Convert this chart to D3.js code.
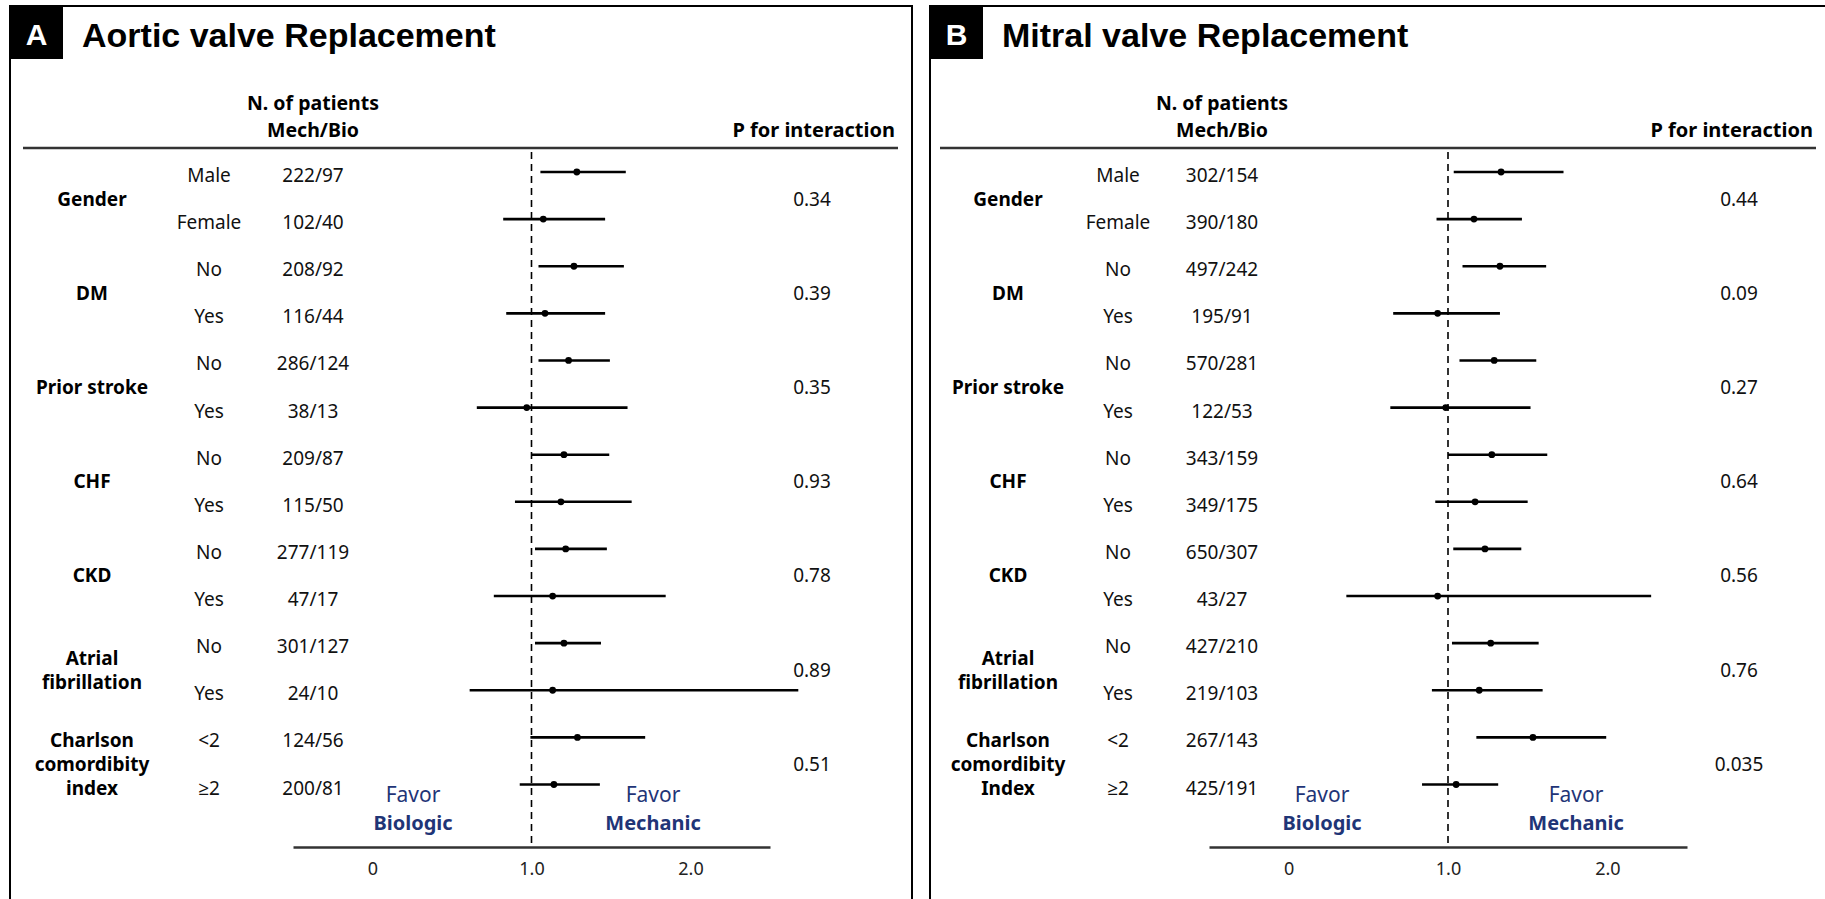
<!DOCTYPE html>
<html>
<head>
<meta charset="utf-8">
<script src="https://cdn.jsdelivr.net/npm/d3@7"></script>
<style>
  body { margin: 0; background: #fff; }
  svg { display: block; }
  text { font-family: "Noto Sans", "Open Sans", sans-serif; }
</style>
</head>
<body>
<svg id="chart" width="1825" height="899"></svg>
<script>
// Subgroup rows (shared by both panels)
const subgroups = ["Male", "Female", "No", "Yes", "No", "Yes", "No", "Yes",
                   "No", "Yes", "No", "Yes", "<2", "\u22652"];

// Group labels, one entry per pair of rows (multi-line labels split into lines)
const aorticGroups = [["Gender"], ["DM"], ["Prior stroke"], ["CHF"], ["CKD"],
                      ["Atrial", "fibrillation"], ["Charlson", "comordibity", "index"]];
const mitralGroups = [["Gender"], ["DM"], ["Prior stroke"], ["CHF"], ["CKD"],
                      ["Atrial", "fibrillation"], ["Charlson", "comordibity", "Index"]];

// Aortic valve replacement
const aorticN = ["222/97", "102/40", "208/92", "116/44", "286/124", "38/13", "209/87",
                 "115/50", "277/119", "47/17", "301/127", "24/10", "124/56", "200/81"];
const aorticHR = [1.285, 1.074, 1.267, 1.085, 1.233, 0.970, 1.204,
                  1.185, 1.215, 1.133, 1.204, 1.133, 1.289, 1.141];
const aorticLower = [1.056, 0.822, 1.044, 0.841, 1.044, 0.656, 1.000,
                     0.896, 1.022, 0.763, 1.022, 0.611, 0.993, 0.926];
const aorticUpper = [1.593, 1.463, 1.581, 1.463, 1.493, 1.604, 1.489,
                     1.630, 1.474, 1.844, 1.437, 2.678, 1.715, 1.430];
const aorticP = ["0.34", "0.39", "0.35", "0.93", "0.78", "0.89", "0.51"];

// Mitral valve replacement
const mitralN = ["302/154", "390/180", "497/242", "195/91", "570/281", "122/53", "343/159",
                 "349/175", "650/307", "43/27", "427/210", "219/103", "267/143", "425/191"];
const mitralHR = [1.333, 1.163, 1.326, 0.935, 1.290, 0.986, 1.275,
                  1.170, 1.232, 0.935, 1.268, 1.196, 1.533, 1.051];
const mitralLower = [1.036, 0.928, 1.091, 0.656, 1.072, 0.638, 1.000,
                     0.920, 1.033, 0.362, 1.025, 0.899, 1.178, 0.837];
const mitralUpper = [1.725, 1.464, 1.616, 1.326, 1.554, 1.518, 1.623,
                     1.500, 1.460, 2.275, 1.569, 1.594, 1.993, 1.315];
const mitralP = ["0.44", "0.09", "0.27", "0.64", "0.56", "0.76", "0.035"];

// Axis
const xDomain = [-0.5, 2.5];
const xTickValues = [0, 1, 2];
const xTickLabels = ["0", "1.0", "2.0"];

const svg = d3.select("#chart");
const navy = "#1f3577";

function drawPanel(p) {
  const g = svg.append("g");
  const rows = p.hr.map((hr, i) => ({ sub: subgroups[i], n: p.n[i], hr, lo: p.lo[i], hi: p.hi[i] }));

  const x = d3.scaleLinear().domain(xDomain).range(p.xRange);
  const y = d3.scaleLinear().domain([0, rows.length - 1]).range([172, 784.5]);

  // panel frame
  g.append("rect").attr("x", p.left).attr("y", 6).attr("width", p.right - p.left)
    .attr("height", 910).attr("fill", "none").attr("stroke", "#000").attr("stroke-width", 2);

  // panel letter and title
  g.append("rect").attr("x", p.left).attr("y", 6).attr("width", 53).attr("height", 53).attr("fill", "#000");
  g.append("text").attr("x", p.left + 26.5).attr("y", 45).attr("text-anchor", "middle")
    .style("font-family", "'Liberation Sans', Arial, sans-serif")
    .attr("font-size", 30).attr("font-weight", "bold").attr("fill", "#fff").text(p.letter);
  g.append("text").attr("x", p.left + 72).attr("y", 47)
    .style("font-family", "'Liberation Sans', Arial, sans-serif")
    .attr("font-size", 34).attr("font-weight", "bold").attr("fill", "#000").text(p.title);

  // column headers
  g.append("text").attr("x", p.nX).attr("y", 110).attr("text-anchor", "middle")
    .attr("font-size", 19.5).attr("font-weight", "bold").text("N. of patients");
  g.append("text").attr("x", p.nX).attr("y", 137).attr("text-anchor", "middle")
    .attr("font-size", 19.5).attr("font-weight", "bold").text("Mech/Bio");
  g.append("text").attr("x", p.pRight).attr("y", 137).attr("text-anchor", "end")
    .attr("font-size", 20).attr("font-weight", "bold").text("P for interaction");

  g.append("line").attr("x1", p.ruleX[0]).attr("x2", p.ruleX[1]).attr("y1", 148).attr("y2", 148)
    .attr("stroke", "#333").attr("stroke-width", 2.5);

  // group labels and interaction p-values
  p.groups.forEach((lines, k) => {
    const mid = (y(2 * k) + y(2 * k + 1)) / 2;
    const t = g.append("text").attr("x", p.catX).attr("text-anchor", "middle")
      .attr("font-size", 19).attr("font-weight", "bold").attr("fill", "#000");
    lines.forEach((ln, j) => {
      t.append("tspan").attr("x", p.catX)
        .attr("y", mid + 10 + (j - (lines.length - 1) / 2) * 24).text(ln);
    });
    g.append("text").attr("x", p.pX).attr("y", mid + 10).attr("text-anchor", "middle")
      .attr("font-size", 19).attr("fill", "#111").text(p.p[k]);
  });

  // subgroup labels and counts
  g.selectAll(".sub").data(rows).join("text")
    .attr("x", p.subX).attr("y", (d, i) => y(i) + 10).attr("text-anchor", "middle")
    .attr("font-size", 19).attr("fill", "#111").text(d => d.sub);
  g.selectAll(".cnt").data(rows).join("text")
    .attr("x", p.nX).attr("y", (d, i) => y(i) + 10).attr("text-anchor", "middle")
    .attr("font-size", 19).attr("fill", "#111").text(d => d.n);

  // x axis
  const axis = d3.axisBottom(x).tickValues(xTickValues)
    .tickFormat((d, i) => xTickLabels[i]).tickSize(0).tickSizeOuter(0).tickPadding(15);
  const ax = g.append("g").attr("transform", `translate(0,${p.axisY})`).call(axis);
  ax.select(".domain").attr("stroke", "#333").attr("stroke-width", 2.5);
  ax.selectAll(".tick text").attr("font-size", 18).attr("fill", "#222")
    .style("font-family", "'Noto Sans', sans-serif");

  // reference line at 1.0
  g.append("line").attr("x1", x(1)).attr("x2", x(1)).attr("y1", 152).attr("y2", p.axisY)
    .attr("stroke", "#000").attr("stroke-width", 1.6).attr("stroke-dasharray", "7,5");

  // favour labels
  [[p.favorLeft, "Biologic"], [p.favorRight, "Mechanic"]].forEach(([fx, word]) => {
    g.append("text").attr("x", fx).attr("y", 802).attr("text-anchor", "middle")
      .attr("font-size", 21).attr("fill", navy).text("Favor");
    g.append("text").attr("x", fx).attr("y", 830).attr("text-anchor", "middle")
      .attr("font-size", 20).attr("font-weight", "bold").attr("fill", navy).text(word);
  });

  // confidence intervals and point estimates
  g.selectAll(".ci").data(rows).join("line")
    .attr("x1", d => x(d.lo)).attr("x2", d => x(d.hi))
    .attr("y1", (d, i) => y(i)).attr("y2", (d, i) => y(i))
    .attr("stroke", "#000").attr("stroke-width", 2.6);
  g.selectAll(".pt").data(rows).join("circle")
    .attr("cx", d => x(d.hr)).attr("cy", (d, i) => y(i)).attr("r", 3.4).attr("fill", "#000");
}

drawPanel({
  letter: "A", title: "Aortic valve Replacement",
  left: 10, right: 912, xRange: [293, 770], axisY: 847,
  catX: 92, subX: 209, nX: 313, pX: 812, pRight: 895, ruleX: [23, 898],
  favorLeft: 413, favorRight: 653,
  groups: aorticGroups, n: aorticN, hr: aorticHR, lo: aorticLower, hi: aorticUpper, p: aorticP
});

drawPanel({
  letter: "B", title: "Mitral valve Replacement",
  left: 930, right: 1830, xRange: [1209, 1687], axisY: 847,
  catX: 1008, subX: 1118, nX: 1222, pX: 1739, pRight: 1813, ruleX: [940, 1816],
  favorLeft: 1322, favorRight: 1576,
  groups: mitralGroups, n: mitralN, hr: mitralHR, lo: mitralLower, hi: mitralUpper, p: mitralP
});
</script>
</body>
</html>
